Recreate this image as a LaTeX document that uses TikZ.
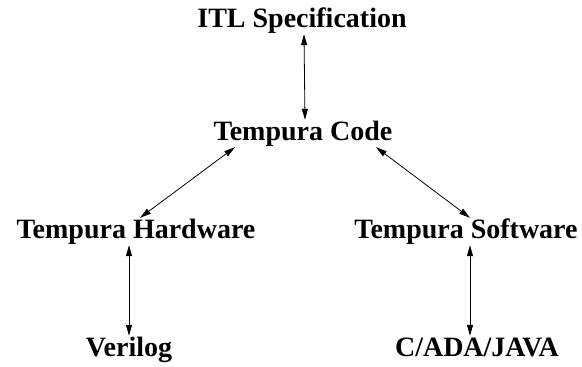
\documentclass[tikz,border=0pt]{standalone}
\usepackage{fontspec}
\setmainfont{Liberation Serif}
\usetikzlibrary{arrows.meta}
\tikzset{
  LabelStyle/.style = { inner sep = 1pt, anchor = base,
                       text height = 19pt, text depth = 6pt,
                       font = \fontsize{28}{34}\selectfont\bfseries },
  EdgeStyle/.style = { {Triangle[length=11pt,width=6pt]}-{Triangle[length=11pt,width=6pt]},
                       line width = 0.8pt } }
\begin{document}
\begin{tikzpicture}[x=1pt,y=1pt]
  \useasboundingbox (0,0) rectangle (582,-367);
  \node[LabelStyle] (itl) at (302,-27) {ITL Specification};
  \node[LabelStyle] (code) at (303,-140) {Tempura Code};

  \node[LabelStyle] (hw) at (136,-238) {Tempura Hardware};
  \node[LabelStyle] (sw) at (466,-238) {Tempura Software};

  \node[LabelStyle] (veri) at (129,-356) {Verilog};
  \node[LabelStyle] (lang) at (477,-356) {C/ADA/JAVA};

  \draw[EdgeStyle] ([xshift=2pt]itl.south) -- ([xshift=2pt]code.north);
  \draw[EdgeStyle] ([xshift=-68pt]code.south) -- ([xshift=4pt]hw.north);
  \draw[EdgeStyle] ([xshift=73pt]code.south) -- ([xshift=4pt]sw.north);

  \draw[EdgeStyle] ([xshift=-7pt]hw.south) -- (veri.north);
  \draw[EdgeStyle] ([xshift=4pt]sw.south) -- ([xshift=-7pt]lang.north);
\end{tikzpicture}
\end{document}
